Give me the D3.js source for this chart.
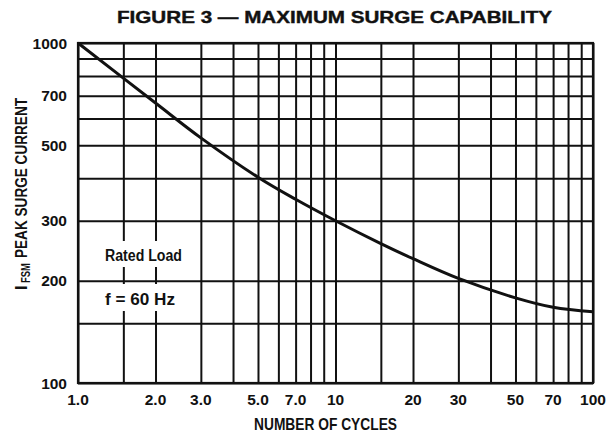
<!DOCTYPE html>
<html>
<head>
<meta charset="utf-8">
<script src="https://cdn.jsdelivr.net/npm/d3@7"></script>
<style>
  body { margin: 0; background: #fff; }
  svg { display: block; }
  .lbl { font-family: "Liberation Sans", Arial, sans-serif; font-weight: bold; fill: #111; }
  .num { font-family: "Liberation Sans", Arial, sans-serif; font-weight: bold; fill: #111; font-size: 15.5px; }
</style>
</head>
<body>
<div id="chart"></div>
<script>
// data
const cycles  = [1, 2, 3, 5, 7, 10, 15, 20, 30, 50, 70, 100];
const current = [1000, 666, 526, 403, 347, 300, 257, 232, 203, 178, 167, 162];

const xGrid = [1, 1.5, 2, 3, 4, 5, 6, 7, 8, 9, 10, 15, 20, 30, 40, 50, 60, 70, 80, 90, 100];
const yGrid = [100, 150, 200, 300, 400, 500, 600, 700, 800, 900, 1000];
const xTicks = [1, 2, 3, 5, 7, 10, 20, 30, 50, 70, 100];
const xTickLabels = ["1.0", "2.0", "3.0", "5.0", "7.0", "10", "20", "30", "50", "70", "100"];
const yTicks = [100, 200, 300, 500, 700, 1000];

// sizes
const svgWidth = 610;
const svgHeight = 435;
const margin = {top: 43, right: 17, bottom: 52, left: 78};
const chartWidth = svgWidth - margin.left - margin.right;
const chartHeight = svgHeight - margin.top - margin.bottom;

const svg = d3.select("#chart")
  .append("svg")
  .attr("width", svgWidth)
  .attr("height", svgHeight);

const chartGroup = svg.append("g")
  .attr("transform", `translate(${margin.left},${margin.top})`);

const xScale = d3.scaleLog().domain([1, 100]).range([0, chartWidth]);
const yScale = d3.scaleLog().domain([100, 1000]).range([chartHeight, 0]);

// vertical grid
chartGroup.append("g")
  .attr("transform", `translate(0,${chartHeight})`)
  .call(d3.axisBottom(xScale).tickValues(xGrid).tickSize(chartHeight).tickFormat(""))
  .call(g => g.select(".domain").remove())
  .call(g => g.selectAll("line").attr("transform", `translate(0,${-chartHeight})`)
    .attr("stroke", "#111").attr("stroke-width", 2));

// white patches behind the notes
const notes = [
  {text: "Rated Load", x: 105, y: 261, len: 77, top: 241, h: 26},
  {text: "f = 60 Hz", x: 105, y: 305, len: 70, top: 284, h: 27}
];
svg.append("g").selectAll("rect")
  .data(notes)
  .enter()
  .append("rect")
  .attr("x", d => d.x - 3)
  .attr("y", d => d.top)
  .attr("width", d => d.len + 6)
  .attr("height", d => d.h)
  .attr("fill", "#fff");

// horizontal grid
chartGroup.append("g")
  .call(d3.axisLeft(yScale).tickValues(yGrid).tickSize(-chartWidth).tickFormat(""))
  .call(g => g.select(".domain").remove())
  .call(g => g.selectAll("line").attr("stroke", "#111").attr("stroke-width", 2));

// frame
chartGroup.append("rect")
  .attr("width", chartWidth)
  .attr("height", chartHeight)
  .attr("fill", "none")
  .attr("stroke", "#111")
  .attr("stroke-width", 2.2);

// curve
const line = d3.line()
  .x(d => xScale(d[0]))
  .y(d => yScale(d[1]))
  .curve(d3.curveCatmullRom.alpha(0.5));

chartGroup.append("path")
  .datum(cycles.map((c, i) => [c, current[i]]))
  .attr("d", line)
  .attr("fill", "none")
  .attr("stroke", "#111")
  .attr("stroke-width", 3);

// tick labels
chartGroup.append("g")
  .selectAll("text")
  .data(xTicks)
  .enter()
  .append("text")
  .attr("class", "num")
  .attr("x", d => xScale(d))
  .attr("y", chartHeight + 22)
  .attr("text-anchor", "middle")
  .text((d, i) => xTickLabels[i]);

chartGroup.append("g")
  .selectAll("text")
  .data(yTicks)
  .enter()
  .append("text")
  .attr("class", "num")
  .attr("x", -11)
  .attr("y", d => yScale(d) + 5.5)
  .attr("text-anchor", "end")
  .text(d => d);

// notes
svg.append("g").selectAll("text")
  .data(notes)
  .enter()
  .append("text")
  .attr("class", "lbl")
  .attr("x", d => d.x)
  .attr("y", d => d.y)
  .attr("font-size", "16px")
  .attr("textLength", d => d.len)
  .attr("lengthAdjust", "spacingAndGlyphs")
  .text(d => d.text);

// title
svg.append("text")
  .attr("x", 117)
  .attr("y", 23)
  .attr("textLength", 435)
  .attr("lengthAdjust", "spacingAndGlyphs")
  .attr("font-family", "'Liberation Sans', Arial, sans-serif")
  .attr("font-weight", "bold")
  .attr("font-size", "16.5px")
  .attr("stroke", "#111")
  .attr("stroke-width", 0.4)
  .attr("fill", "#111")
  .text("FIGURE 3 \u2014 MAXIMUM SURGE CAPABILITY");

// x label
svg.append("text")
  .attr("class", "lbl")
  .attr("x", 254)
  .attr("y", 430)
  .attr("font-size", "16.5px")
  .attr("textLength", 143)
  .attr("lengthAdjust", "spacingAndGlyphs")
  .text("NUMBER OF CYCLES");

// y label (rotated, reads bottom to top)
const yLabel = svg.append("text")
  .attr("class", "lbl")
  .attr("transform", "translate(27,290) rotate(-90)")
  .attr("font-size", "16.5px");
yLabel.append("tspan").attr("x", 0).attr("y", 0).text("I");
yLabel.append("tspan").attr("x", 7).attr("y", 3).attr("font-size", "12px")
  .attr("textLength", 20).attr("lengthAdjust", "spacingAndGlyphs").text("FSM");
yLabel.append("tspan").attr("x", 32).attr("y", 0)
  .attr("textLength", 160).attr("lengthAdjust", "spacingAndGlyphs").text("PEAK SURGE CURRENT");
</script>
</body>
</html>
